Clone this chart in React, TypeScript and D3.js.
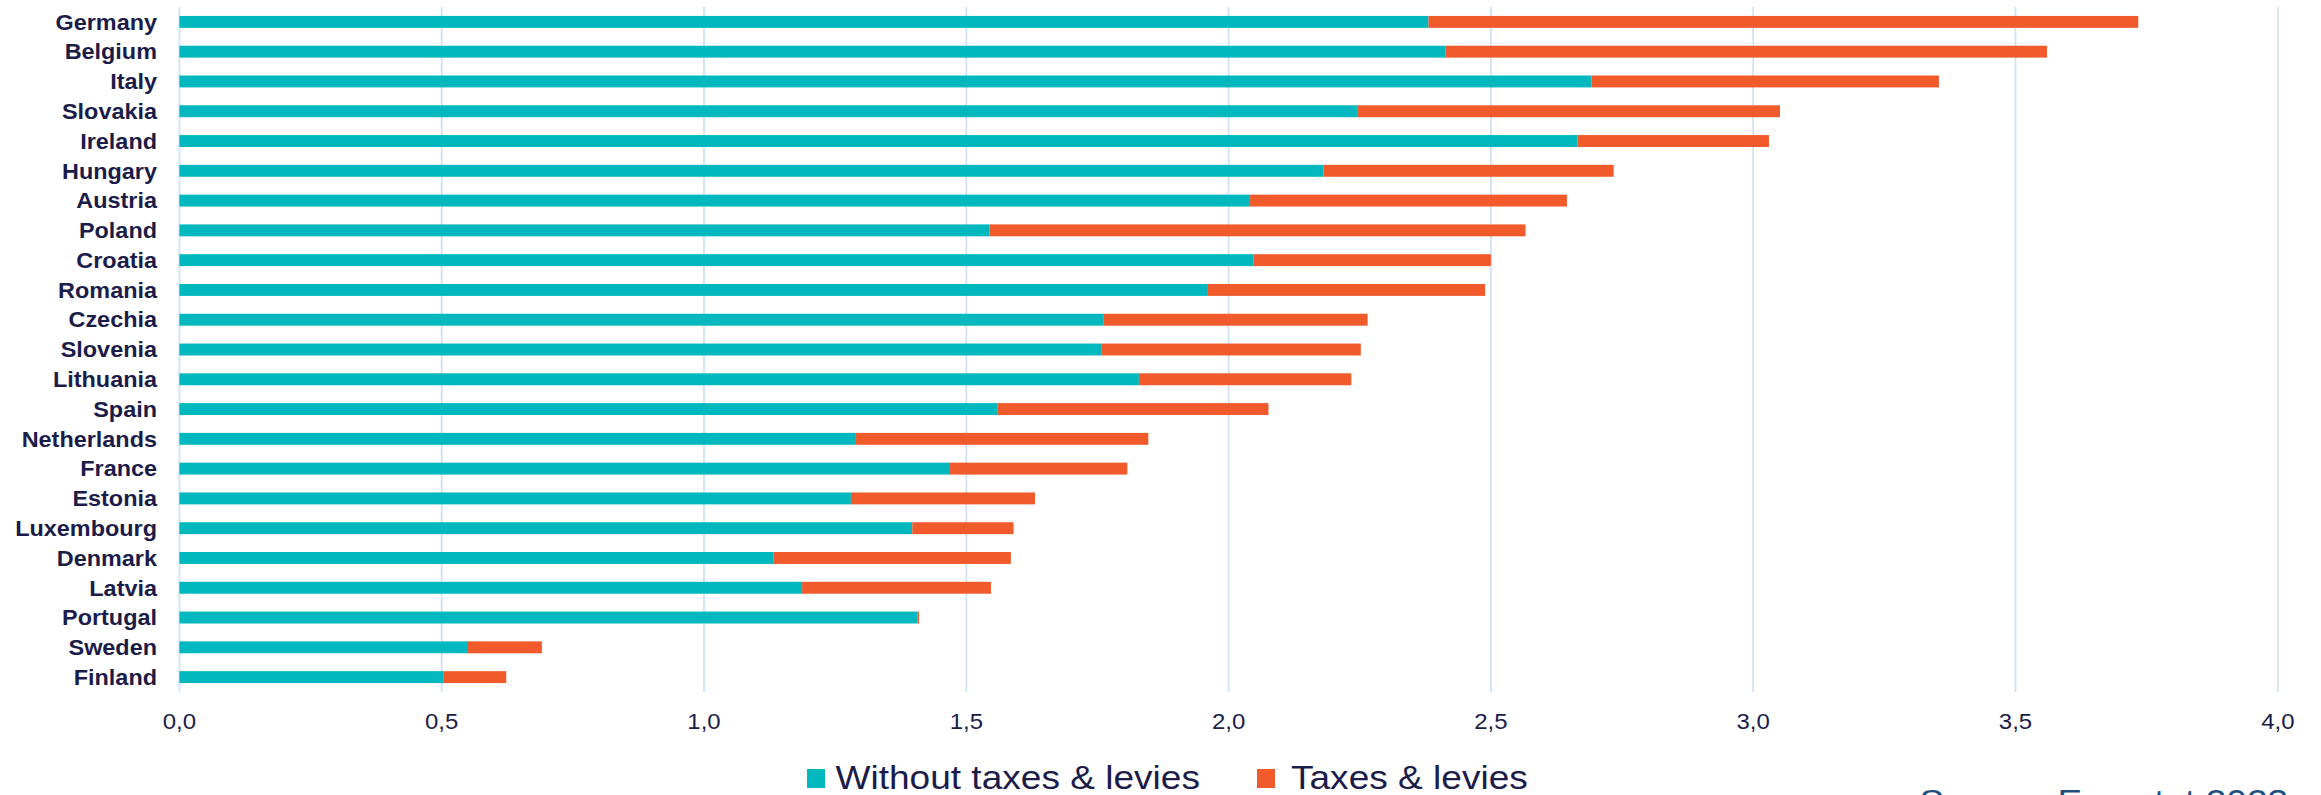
import React from "react";
import * as d3 from "d3";

const countries = [
  "Germany", "Belgium", "Italy", "Slovakia", "Ireland", "Hungary", "Austria", "Poland",
  "Croatia", "Romania", "Czechia", "Slovenia", "Lithuania", "Spain", "Netherlands",
  "France", "Estonia", "Luxembourg", "Denmark", "Latvia", "Portugal", "Sweden", "Finland",
];

const withoutTaxes = [
  2.381, 2.413, 2.692, 2.245, 2.665, 2.181, 2.041, 1.544,
  2.047, 1.959, 1.762, 1.757, 1.829, 1.560, 1.288,
  1.469, 1.280, 1.397, 1.132, 1.187, 1.407, 0.550, 0.504,
];

const taxes = [
  1.353, 1.147, 0.662, 0.806, 0.365, 0.553, 0.604, 1.022,
  0.453, 0.530, 0.503, 0.495, 0.405, 0.516, 0.559,
  0.338, 0.351, 0.193, 0.453, 0.360, 0.003, 0.141, 0.119,
];

const seriesKeys = ["Without taxes & levies", "Taxes & levies"];
const seriesColors = ["#00B8BE", "#F15A2B"];
const xTicks = [0, 0.5, 1, 1.5, 2, 2.5, 3, 3.5, 4];
const sourceText = "Source: Eurostat 2023";

const W = 2321;
const H = 795;
const plotLeft = 179.4;
const plotRight = 2277.8;
const plotTop = 7;
const plotBottom = 692;
const SX = 1.09;
const navy = "#1b1c4a";
const fontFamily = "'Liberation Sans', Arial, sans-serif";

const locale = d3.formatLocale({ decimal: ",", thousands: ".", grouping: [3], currency: ["", "€"] });
const fmt = locale.format(".1f");

export default function App() {
  const rows = countries.map((c, i) => ({
    country: c,
    [seriesKeys[0]]: withoutTaxes[i],
    [seriesKeys[1]]: taxes[i],
  }));
  const stacked = d3.stack<any>().keys(seriesKeys)(rows);

  const x = d3.scaleLinear().domain([0, 4]).range([plotLeft, plotRight]);
  const y = d3
    .scaleBand<string>()
    .domain(countries)
    .range([plotTop, plotBottom])
    .paddingInner(0.6)
    .paddingOuter(0.3);

  const sText = (tx: number, ty: number) => `translate(${tx},${ty}) scale(${SX},1)`;

  return (
    <svg
      width={W}
      height={H}
      style={{ position: "absolute", left: 0, top: 0, background: "#fff" }}
      fontFamily={fontFamily}
    >
      {/* gridlines */}
      {xTicks.map((t) => (
        <line
          key={"g" + t}
          x1={x(t)}
          x2={x(t)}
          y1={plotTop}
          y2={plotBottom}
          stroke="#cbe3f8"
          strokeWidth={1.75}
        />
      ))}
      {/* bars */}
      {stacked.map((s, si) => (
        <g key={s.key} fill={seriesColors[si]}>
          {s.map((d: any, i: number) => (
            <rect
              key={countries[i]}
              x={x(d[0])}
              y={y(countries[i])}
              width={Math.max(0, x(d[1]) - x(d[0]))}
              height={y.bandwidth()}
            />
          ))}
        </g>
      ))}
      {/* category labels */}
      {countries.map((c) => (
        <text
          key={"l" + c}
          transform={sText(157, (y(c) as number) + y.bandwidth() / 2)}
          dy="0.36em"
          textAnchor="end"
          fontSize={21.5}
          fontWeight="bold"
          fill={navy}
        >
          {c}
        </text>
      ))}
      {/* tick labels */}
      {xTicks.map((t) => (
        <text
          key={"t" + t}
          transform={sText(x(t), 729)}
          textAnchor="middle"
          fontSize={22}
          fill={navy}
        >
          {fmt(t)}
        </text>
      ))}
      {/* legend */}
      <rect x={807} y={769} width={18} height={19} fill={seriesColors[0]} />
      <text transform={sText(835.5, 789)} fontSize={34} fill={navy}>
        {seriesKeys[0]}
      </text>
      <rect x={1257} y={769} width={18} height={19} fill={seriesColors[1]} />
      <text transform={sText(1291, 789)} fontSize={34} fill={navy}>
        {seriesKeys[1]}
      </text>
      {/* source */}
      <text transform={sText(1919.5, 812.5)} fontSize={34} fill="#1d4f82">
        {sourceText}
      </text>
    </svg>
  );
}
